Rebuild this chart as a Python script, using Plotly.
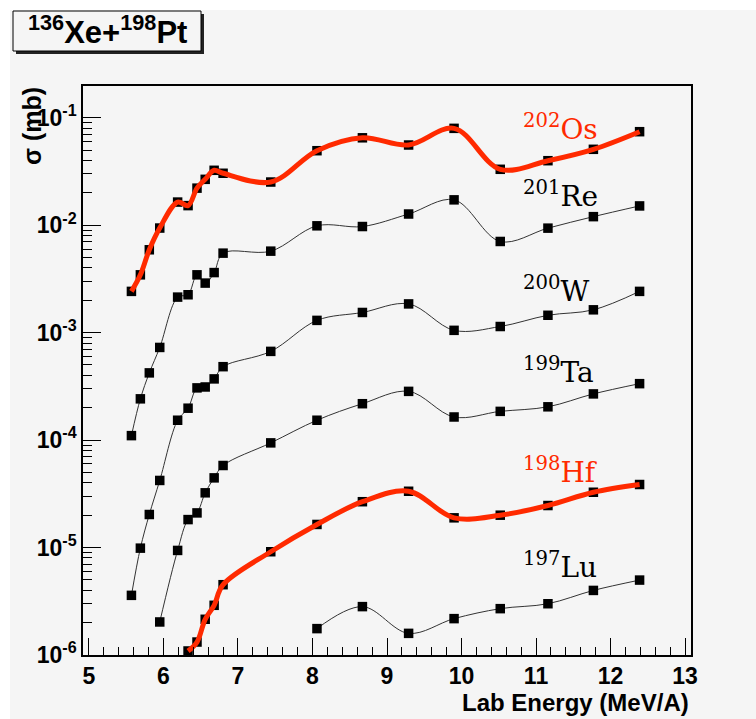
import plotly.graph_objects as go

# ---- data ----
energy = [5.57, 5.69, 5.81, 5.95, 6.19, 6.33, 6.45, 6.56, 6.68, 6.80,
          7.44, 8.06, 8.67, 9.29, 9.90, 10.52, 11.16, 11.77, 12.39]

os202 = [2.42e-3, 3.45e-3, 5.9e-3, 9.4e-3, 1.64e-2, 1.52e-2, 2.21e-2, 2.67e-2, 3.24e-2, 3.04e-2,
         2.52e-2, 4.93e-2, 6.5e-2, 5.57e-2, 7.96e-2, 3.31e-2, 3.98e-2, 5.08e-2, 7.41e-2]
re201 = [1.10e-4, 2.42e-4, 4.22e-4, 7.28e-4, 2.14e-3, 2.25e-3, 3.45e-3, 2.89e-3, 3.62e-3, 5.49e-3,
         5.73e-3, 9.86e-3, 9.71e-3, 1.27e-2, 1.72e-2, 7.05e-3, 9.38e-3, 1.20e-2, 1.51e-2]
w200 = [3.59e-6, 9.87e-6, 2.03e-5, 4.21e-5, 1.53e-4, 1.98e-4, 3.06e-4, 3.12e-4, 3.71e-4, 4.82e-4,
        6.69e-4, 1.30e-3, 1.54e-3, 1.85e-3, 1.05e-3, 1.14e-3, 1.45e-3, 1.63e-3, 2.42e-3]
ta199 = [None, None, None, 2.03e-6, 9.4e-6, 1.82e-5, 2.10e-5, 3.23e-5, 4.45e-5, 5.80e-5,
         9.42e-5, 1.53e-4, 2.18e-4, 2.84e-4, 1.64e-4, 1.85e-4, 2.04e-4, 2.69e-4, 3.35e-4]
hf198 = [None, None, None, None, None, 1.09e-6, 1.32e-6, 2.15e-6, 2.90e-6, 4.51e-6,
         9.14e-6, 1.64e-5, 2.67e-5, 3.34e-5, 1.89e-5, 2.0e-5, 2.46e-5, 3.27e-5, 3.86e-5]
lu197 = [None] * 11 + [1.76e-6, 2.82e-6, 1.59e-6, 2.18e-6, 2.70e-6, 3.0e-6, 3.99e-6, 4.98e-6]

series = [("Os", "202", os202, True), ("Re", "201", re201, False), ("W", "200", w200, False),
          ("Ta", "199", ta199, False), ("Hf", "198", hf198, True), ("Lu", "197", lu197, False)]
label_y_px = {"Os": 127, "Re": 195, "W": 289, "Ta": 370, "Hf": 470, "Lu": 565}

y_major = [1e-6, 1e-5, 1e-4, 1e-3, 1e-2, 1e-1]
y_major_text = ["10<sup>-6</sup>", "10<sup>-5</sup>", "10<sup>-4</sup>", "10<sup>-3</sup>",
                "10<sup>-2</sup>", "10<sup>-1</sup>"]
x_major = [5, 6, 7, 8, 9, 10, 11, 12, 13]

RED = "#ff2a00"
BG = "#f5f5f5"

# ---- layout geometry helpers (pixels -> paper) ----
W_, H_ = 756, 719
L, R, T, B = 83, 65, 86, 64
PW, PH = W_ - L - R, H_ - T - B
def px2x(px):
    return (px - L) / PW
def py2y(py):
    return (H_ - B - py) / PH

fig = go.Figure()

for name, mass, vals, red in series:
    xs = [e for e, v in zip(energy, vals) if v is not None]
    ys = [v for v in vals if v is not None]
    if red:
        fig.add_trace(go.Scatter(x=xs, y=ys, mode="markers",
                                 marker=dict(symbol="square", size=9.5, color="black"),
                                 showlegend=False, hoverinfo="skip"))
        fig.add_trace(go.Scatter(x=xs, y=ys, mode="lines",
                                 line=dict(color=RED, width=5, shape="spline", smoothing=1.0),
                                 showlegend=False))
    else:
        fig.add_trace(go.Scatter(x=xs, y=ys, mode="lines+markers",
                                 line=dict(color="#333333", width=1, shape="spline", smoothing=1.0),
                                 marker=dict(symbol="square", size=9.5, color="black"),
                                 showlegend=False))
    fig.add_annotation(xref="paper", yref="paper", x=px2x(521), y=py2y(label_y_px[name]),
                       xanchor="left", yanchor="middle", showarrow=False,
                       text=f"<sup>{mass}</sup>{name}",
                       font=dict(family="DejaVu Serif", size=28, color=RED if red else "black"))

y_minor = [m * 10.0 ** k for k in range(-6, 0) for m in range(2, 10)]
y_minor = [v for v in y_minor if v < 0.2]

tickfont = dict(family="Liberation Sans", size=23, color="black", weight="bold")

fig.update_xaxes(range=[4.92, 13.08], tickmode="array", tickvals=x_major,
                 ticktext=[str(v) for v in x_major],
                 ticks="inside", ticklen=17, tickwidth=1, tickcolor="black",
                 minor=dict(dtick=0.2, tick0=5, ticks="inside", ticklen=8, tickwidth=1, tickcolor="black"),
                 showline=True, linecolor="black", linewidth=1.5, mirror=True,
                 showgrid=False, zeroline=False, tickfont=tickfont)
fig.update_yaxes(type="log", range=[-6, -0.705], tickmode="array", tickvals=y_major,
                 ticktext=y_major_text,
                 ticks="inside", ticklen=18, tickwidth=1, tickcolor="black",
                 minor=dict(tickvals=y_minor, ticks="inside", ticklen=9, tickwidth=1, tickcolor="black"),
                 showline=True, linecolor="black", linewidth=1.5, mirror=True,
                 showgrid=False, zeroline=False, tickfont=tickfont)

# background canvas (white strip at top/left, grey elsewhere)
fig.add_shape(type="rect", xref="paper", yref="paper", x0=px2x(10), x1=px2x(W_ + 5),
              y0=py2y(H_ + 5), y1=py2y(10), fillcolor=BG, line=dict(width=0), layer="below")

# title box with shadow
fig.add_shape(type="rect", xref="paper", yref="paper", x0=px2x(16), x1=px2x(204),
              y0=py2y(54), y1=py2y(14), fillcolor="#222222", line=dict(width=0))
fig.add_shape(type="rect", xref="paper", yref="paper", x0=px2x(13), x1=px2x(201),
              y0=py2y(51), y1=py2y(11), fillcolor=BG, line=dict(color="black", width=1))
fig.add_annotation(xref="paper", yref="paper", x=px2x(107), y=py2y(30),
                   xanchor="center", yanchor="middle", showarrow=False,
                   text="<sup>136</sup>Xe+<sup>198</sup>Pt",
                   font=dict(family="Liberation Sans", size=31, color="black", weight="bold"))

# axis titles
fig.add_annotation(xref="paper", yref="paper", x=px2x(32), y=py2y(126),
                   xanchor="center", yanchor="middle", showarrow=False, textangle=-90,
                   text="σ (mb)",
                   font=dict(family="Liberation Sans", size=25, color="black", weight="bold"))
fig.add_annotation(xref="paper", yref="paper", x=1.0, y=py2y(702),
                   xanchor="right", yanchor="middle", showarrow=False,
                   text="Lab Energy (MeV/A)",
                   font=dict(family="Liberation Sans", size=24, color="black", weight="bold"))

fig.update_layout(width=W_, height=H_, margin=dict(l=L, r=R, t=T, b=B),
                  paper_bgcolor="white", plot_bgcolor="rgba(0,0,0,0)", showlegend=False)

fig.write_html("out.html")
